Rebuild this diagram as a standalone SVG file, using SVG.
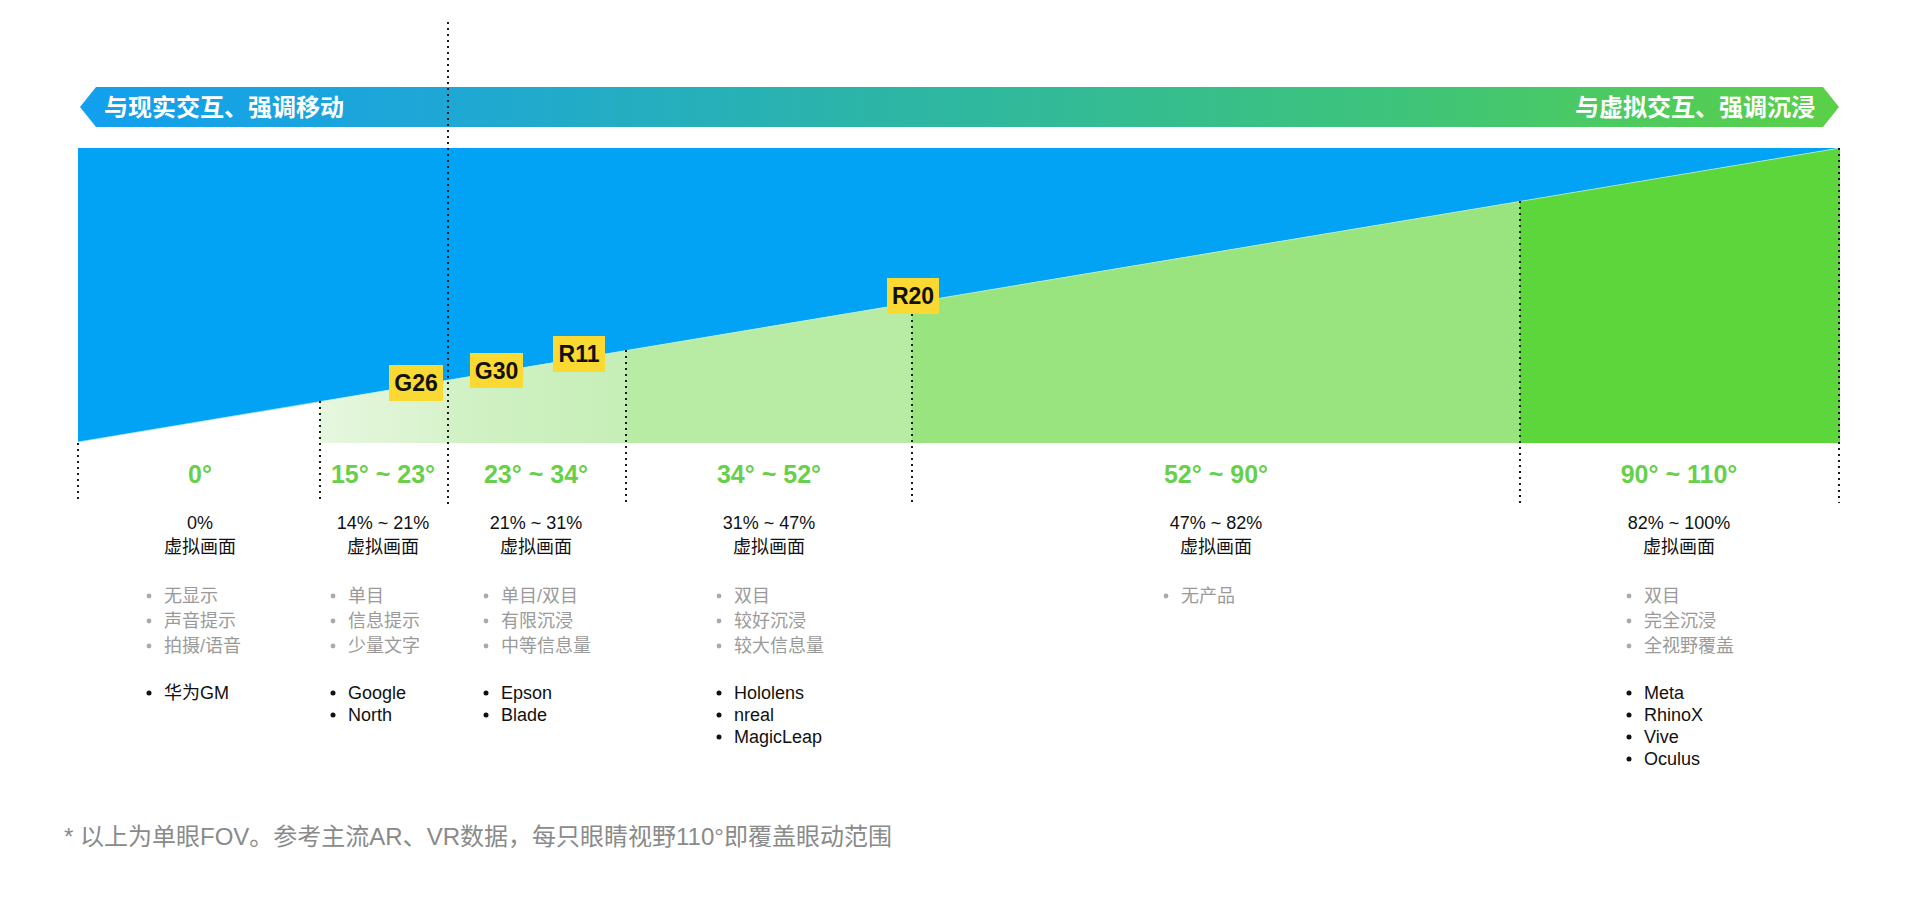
<svg xmlns="http://www.w3.org/2000/svg" width="1920" height="904" viewBox="0 0 1920 904">
<defs>
<linearGradient id="bannerGrad" x1="80" y1="0" x2="1839" y2="0" gradientUnits="userSpaceOnUse">
<stop offset="0" stop-color="#129fee"/>
<stop offset="0.2" stop-color="#1ea7d6"/>
<stop offset="0.45" stop-color="#2cb5a7"/>
<stop offset="0.75" stop-color="#3ec47a"/>
<stop offset="1" stop-color="#5bd047"/>
</linearGradient>
<linearGradient id="r1Grad" x1="320" y1="0" x2="448" y2="0" gradientUnits="userSpaceOnUse">
<stop offset="0" stop-color="#e6f7df"/>
<stop offset="1" stop-color="#d8f3cc"/>
</linearGradient>
<linearGradient id="r2Grad" x1="448" y1="0" x2="626" y2="0" gradientUnits="userSpaceOnUse">
<stop offset="0" stop-color="#d2f2c6"/>
<stop offset="1" stop-color="#c6eeb7"/>
</linearGradient>
<style>
.dot{stroke:#1a1a1a;stroke-width:2;stroke-dasharray:2 4;fill:none}
.tag rect{fill:#fad933}
.tag text{font-family:"Liberation Sans","Noto Sans CJK SC",sans-serif;font-weight:bold;font-size:23px;fill:#111;text-anchor:middle}
.deg{font-family:"Liberation Sans","Noto Sans CJK SC",sans-serif;font-weight:bold;font-size:25px;fill:#68cf4b;text-anchor:middle}
.pct{font-family:"Liberation Sans","Noto Sans CJK SC",sans-serif;font-size:18px;fill:#111;text-anchor:middle}
.gray{font-family:"Liberation Sans","Noto Sans CJK SC",sans-serif;font-size:18px;fill:#9a9a9a}
.blk{font-family:"Liberation Sans","Noto Sans CJK SC",sans-serif;font-size:18px;fill:#111}
.gb{fill:#aaaaaa}
.bb{fill:#111}
.ban{font-family:"Liberation Sans","Noto Sans CJK SC",sans-serif;font-weight:bold;font-size:24px;fill:#fff}
.note{font-family:"Liberation Sans","Noto Sans CJK SC",sans-serif;font-size:24px;fill:#8a8a8a}
</style>
</defs>
<rect width="1920" height="904" fill="#ffffff"/>

<g id="banner">
<polygon points="80,107 96,87 1823,87 1839,107 1823,127 96,127" fill="url(#bannerGrad)"/>
<text class="ban" x="104" y="116">与现实交互、强调移动</text>
<text class="ban" x="1815" y="116" text-anchor="end">与虚拟交互、强调沉浸</text>
</g>

<g id="chart">
<polygon id="virtual-area" points="78,148 1840,148 78,442" fill="#02a2f4"/>
<polygon id="band-15-23" points="320,401.5 448,380 448,443 320,443" fill="url(#r1Grad)"/>
<polygon id="band-23-34" points="448,380 626,350.4 626,443 448,443" fill="url(#r2Grad)"/>
<polygon id="band-34-52" points="626,350.4 912,302.7 912,443 626,443" fill="#b8eca4"/>
<polygon id="band-52-90" points="912,302.7 1520,201.2 1520,443 912,443" fill="#9ae47f"/>
<polygon id="band-90-110" points="1520,201.2 1840,148 1840,443 1520,443" fill="#5dd63b"/>
<line x1="78" y1="442" x2="1840" y2="148" stroke="#bff0e8" stroke-width="1" opacity="0.7"/>
</g>

<g id="connectors">
<line class="dot" x1="78" y1="443" x2="78" y2="503"/>
<line class="dot" x1="320" y1="401" x2="320" y2="503"/>
<line class="dot" x1="448" y1="22" x2="448" y2="505"/>
<line class="dot" x1="626" y1="350" x2="626" y2="503"/>
<line class="dot" x1="912" y1="314" x2="912" y2="503"/>
<line class="dot" x1="1520" y1="201" x2="1520" y2="503"/>
<line class="dot" x1="1839" y1="148" x2="1839" y2="503"/>
</g>

<g id="tag-G26" class="tag"><rect x="389" y="365" width="54" height="36"/><text x="416" y="391">G26</text></g>
<g id="tag-G30" class="tag"><rect x="470" y="353" width="53" height="35"/><text x="496.5" y="379">G30</text></g>
<g id="tag-R11" class="tag"><rect x="553" y="336" width="52" height="36"/><text x="579" y="362">R11</text></g>
<g id="tag-R20" class="tag"><rect x="887" y="278" width="52" height="36"/><text x="913" y="304">R20</text></g>

<g id="col-0">
<text class="deg" x="200" y="483">0°</text>
<text class="pct" x="200" y="529">0%</text>
<text class="pct" x="200" y="553">虚拟画面</text>
<circle class="gb" cx="149" cy="596" r="2.4"/><text class="gray" x="164" y="602">无显示</text>
<circle class="gb" cx="149" cy="621" r="2.4"/><text class="gray" x="164" y="627">声音提示</text>
<circle class="gb" cx="149" cy="646" r="2.4"/><text class="gray" x="164" y="652">拍摄/语音</text>
<circle class="bb" cx="149" cy="693" r="2.5"/><text class="blk" x="164" y="699">华为GM</text>
</g>

<g id="col-15-23">
<text class="deg" x="383" y="483">15° ~ 23°</text>
<text class="pct" x="383" y="529">14% ~ 21%</text>
<text class="pct" x="383" y="553">虚拟画面</text>
<circle class="gb" cx="333" cy="596" r="2.4"/><text class="gray" x="348" y="602">单目</text>
<circle class="gb" cx="333" cy="621" r="2.4"/><text class="gray" x="348" y="627">信息提示</text>
<circle class="gb" cx="333" cy="646" r="2.4"/><text class="gray" x="348" y="652">少量文字</text>
<circle class="bb" cx="333" cy="693" r="2.5"/><text class="blk" x="348" y="699">Google</text>
<circle class="bb" cx="333" cy="715" r="2.5"/><text class="blk" x="348" y="721">North</text>
</g>

<g id="col-23-34">
<text class="deg" x="536" y="483">23° ~ 34°</text>
<text class="pct" x="536" y="529">21% ~ 31%</text>
<text class="pct" x="536" y="553">虚拟画面</text>
<circle class="gb" cx="486" cy="596" r="2.4"/><text class="gray" x="501" y="602">单目/双目</text>
<circle class="gb" cx="486" cy="621" r="2.4"/><text class="gray" x="501" y="627">有限沉浸</text>
<circle class="gb" cx="486" cy="646" r="2.4"/><text class="gray" x="501" y="652">中等信息量</text>
<circle class="bb" cx="486" cy="693" r="2.5"/><text class="blk" x="501" y="699">Epson</text>
<circle class="bb" cx="486" cy="715" r="2.5"/><text class="blk" x="501" y="721">Blade</text>
</g>

<g id="col-34-52">
<text class="deg" x="769" y="483">34° ~ 52°</text>
<text class="pct" x="769" y="529">31% ~ 47%</text>
<text class="pct" x="769" y="553">虚拟画面</text>
<circle class="gb" cx="719" cy="596" r="2.4"/><text class="gray" x="734" y="602">双目</text>
<circle class="gb" cx="719" cy="621" r="2.4"/><text class="gray" x="734" y="627">较好沉浸</text>
<circle class="gb" cx="719" cy="646" r="2.4"/><text class="gray" x="734" y="652">较大信息量</text>
<circle class="bb" cx="719" cy="693" r="2.5"/><text class="blk" x="734" y="699">Hololens</text>
<circle class="bb" cx="719" cy="715" r="2.5"/><text class="blk" x="734" y="721">nreal</text>
<circle class="bb" cx="719" cy="737" r="2.5"/><text class="blk" x="734" y="743">MagicLeap</text>
</g>

<g id="col-52-90">
<text class="deg" x="1216" y="483">52° ~ 90°</text>
<text class="pct" x="1216" y="529">47% ~ 82%</text>
<text class="pct" x="1216" y="553">虚拟画面</text>
<circle class="gb" cx="1166" cy="596" r="2.4"/><text class="gray" x="1181" y="602">无产品</text>
</g>

<g id="col-90-110">
<text class="deg" x="1679" y="483">90° ~ 110°</text>
<text class="pct" x="1679" y="529">82% ~ 100%</text>
<text class="pct" x="1679" y="553">虚拟画面</text>
<circle class="gb" cx="1629" cy="596" r="2.4"/><text class="gray" x="1644" y="602">双目</text>
<circle class="gb" cx="1629" cy="621" r="2.4"/><text class="gray" x="1644" y="627">完全沉浸</text>
<circle class="gb" cx="1629" cy="646" r="2.4"/><text class="gray" x="1644" y="652">全视野覆盖</text>
<circle class="bb" cx="1629" cy="693" r="2.5"/><text class="blk" x="1644" y="699">Meta</text>
<circle class="bb" cx="1629" cy="715" r="2.5"/><text class="blk" x="1644" y="721">RhinoX</text>
<circle class="bb" cx="1629" cy="737" r="2.5"/><text class="blk" x="1644" y="743">Vive</text>
<circle class="bb" cx="1629" cy="759" r="2.5"/><text class="blk" x="1644" y="765">Oculus</text>
</g>

<g id="footnote">
<text class="note" x="64" y="845">* 以上为单眼FOV。参考主流AR、VR数据，每只眼睛视野110°即覆盖眼动范围</text>
</g>
</svg>
